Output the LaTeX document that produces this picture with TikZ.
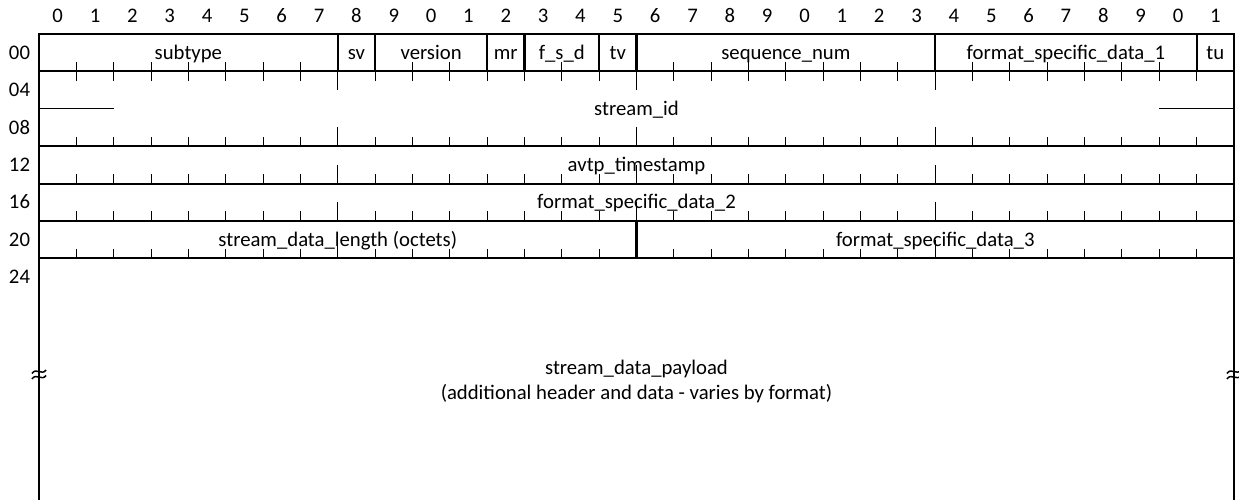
\documentclass[tikz,border=0pt]{standalone}
\usepackage{fontspec}
\setmainfont{Carlito}
\begin{document}
\begin{tikzpicture}[x=1bp,y=-1bp,
  frame/.style={line width=2.2pt},
  tickline/.style={line width=1pt},
  stub/.style={line width=1pt},
  lbl/.style={font=\fontsize{20.8}{25}\selectfont, inner sep=0pt, align=center, text height=0.63em, text depth=0pt, yshift=-3.5bp},
]
\useasboundingbox (0,0) rectangle (1239,500);
\def\bw{37.344}
\def\L{39}
\def\R{1234}
% header digits
\foreach \i in {0,...,31} {
  \pgfmathtruncatemacro\d{mod(\i,10)}
  \node[lbl] (h\i) at ({\L+(\i+0.5)*\bw},16) {\d};
}
% row labels
\foreach \lab/\yy in {00/52.7,04/90.1,08/127.5,12/164.9,16/202.3,20/239.7,24/277.1}
  \node[lbl] (r\lab) at (19.5,\yy) {\lab};
% ticks
\foreach \yy in {71.4,146.2,183.6,221.0,258.4} {
  \foreach \i in {1,...,31} {
    \draw[tickline] ({\L+\i*\bw},\yy) -- ++(0,-9.5);
  }
  \ifdim\yy pt>100pt
    \foreach \i in {8,16,24} \draw[tickline] ({\L+\i*\bw},\yy) -- ++(0,-18.7);
  \fi
}
% downward ticks into stream_id
\foreach \i in {1,...,31} \draw[tickline] ({\L+\i*\bw},71.4) -- ++(0,9.5);
\foreach \i in {8,16,24} \draw[tickline] ({\L+\i*\bw},71.4) -- ++(0,18.7);
% stubs in stream_id
\draw[stub] (\L,108.8) -- ({\L+2*\bw},108.8);
\draw[stub] ({\L+30*\bw},108.8) -- (\R,108.8);
% frame
\draw[frame] (\L,500) -- (\L,34) -- (\R,34) -- (\R,500);
\foreach \yy in {71.4,146.2,183.6,221.0,258.4}
  \draw[frame] (\L,\yy) -- (\R,\yy);
% field boundaries row 00
\foreach \i in {8,9,12,13,15,16,24,31}
  \draw[frame] ({\L+\i*\bw},34) -- ({\L+\i*\bw},71.4);
% field boundary row 20
\draw[frame] ({\L+16*\bw},221.0) -- ({\L+16*\bw},258.4);
% field labels
\node[lbl] (subtype) at ({\L+4*\bw},52.7) {subtype};
\node[lbl] (sv) at ({\L+8.5*\bw},52.7) {sv};
\node[lbl] (version) at ({\L+10.5*\bw},52.7) {version};
\node[lbl] (mr) at ({\L+12.5*\bw},52.7) {mr};
\node[lbl] (fsd) at ({\L+14*\bw},52.7) {f\_s\_d};
\node[lbl] (tv) at ({\L+15.5*\bw},52.7) {tv};
\node[lbl] (seq) at ({\L+20*\bw},52.7) {sequence\_num};
\node[lbl] (fsd1) at ({\L+27.5*\bw},52.7) {format\_specific\_data\_1};
\node[lbl] (tu) at ({\L+31.5*\bw},52.7) {tu};
\node[lbl] (sid) at ({\L+16*\bw},108.8) {stream\_id};
\node[lbl] (ts) at ({\L+16*\bw},164.9) {avtp\_timestamp};
\node[lbl] (fsd2) at ({\L+16*\bw},202.3) {format\_specific\_data\_2};
\node[lbl] (sdl) at ({\L+8*\bw},239.7) {stream\_data\_length (octets)};
\node[lbl] (fsd3) at ({\L+24*\bw},239.7) {format\_specific\_data\_3};
\node[lbl] (payload1) at ({\L+16*\bw},368) {stream\_data\_payload};
\node[lbl] (payload2) at ({\L+16*\bw},393) {(additional header and data - varies by format)};
% break marks
\foreach \xx in {\L,\R} {
  \draw[line width=1.5pt] (\xx-7,373.5) .. controls (\xx-3,367) and (\xx+3,376) .. (\xx+7,370);
  \draw[line width=1.5pt] (\xx-7,379) .. controls (\xx-3,372.5) and (\xx+3,381.5) .. (\xx+7,375.5);
}
\end{tikzpicture}
\end{document}
